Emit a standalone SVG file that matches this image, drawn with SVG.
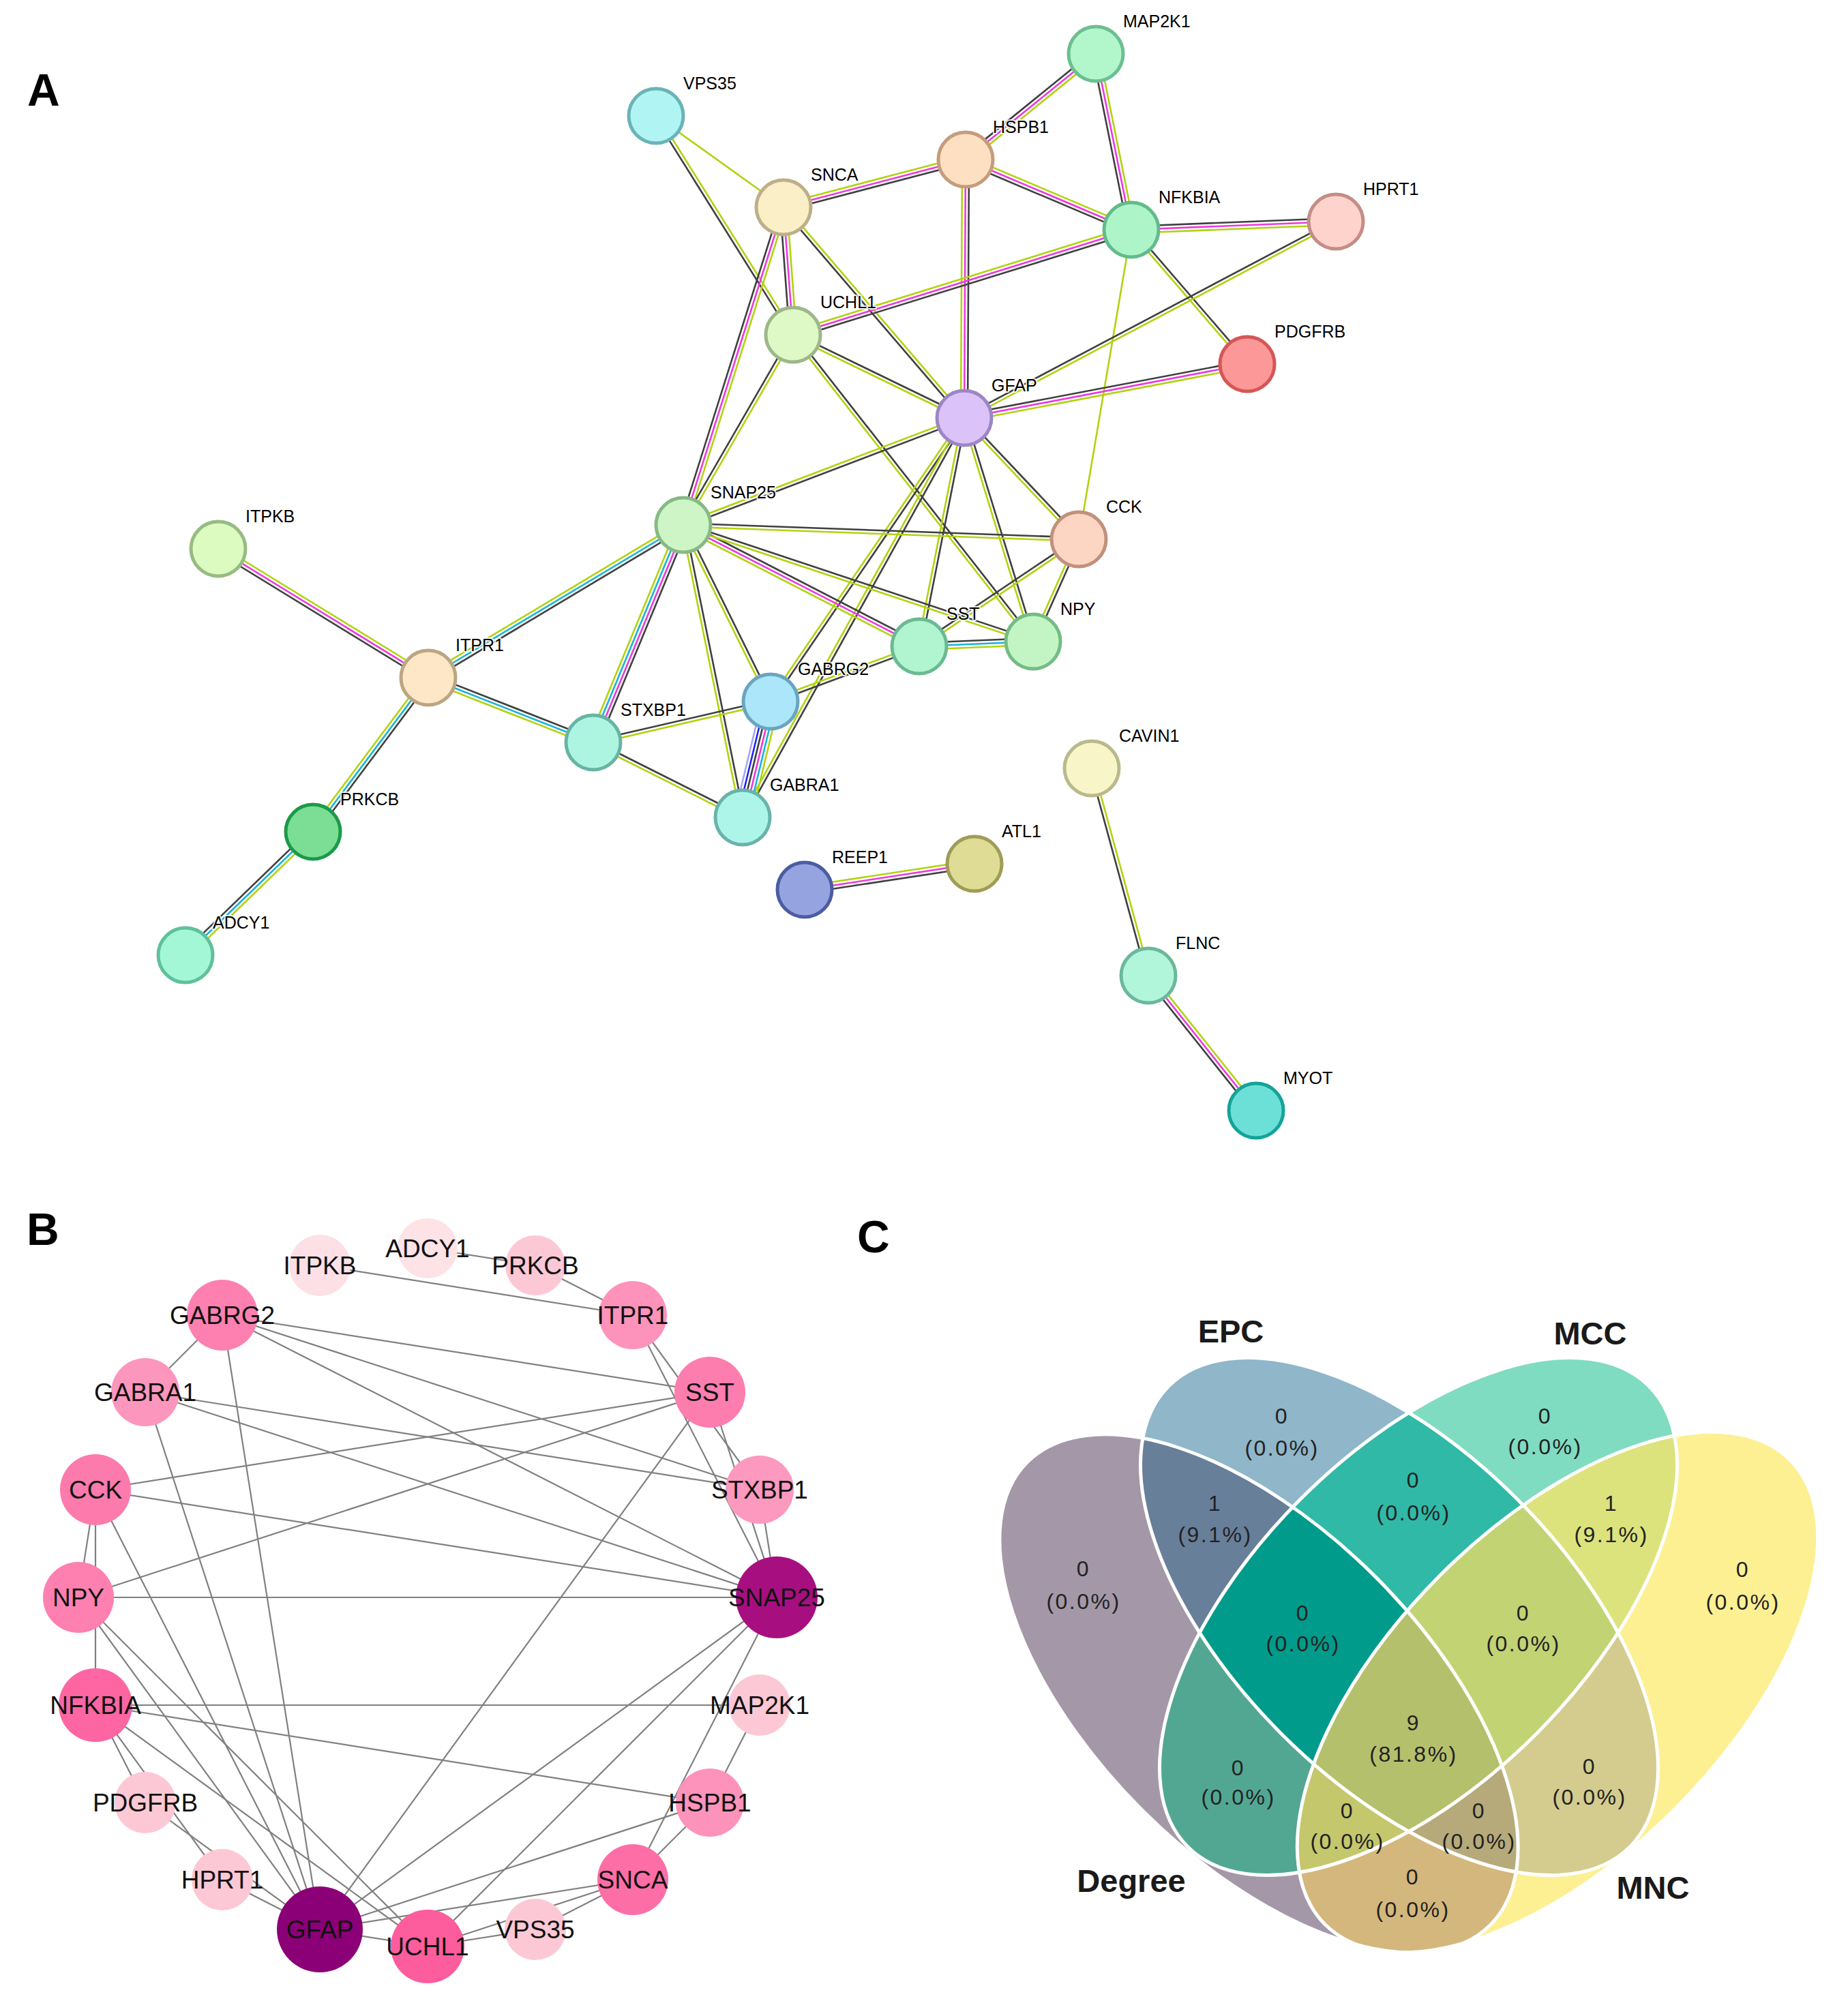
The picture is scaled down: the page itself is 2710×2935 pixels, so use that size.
<svg xmlns="http://www.w3.org/2000/svg" xmlns:xlink="http://www.w3.org/1999/xlink" width="2710" height="2935" viewBox="0 0 2710 2935">
<style>
text{font-family:"Liberation Sans",Arial,sans-serif}
.pl{font-size:66px;font-weight:bold;fill:#000}
.la{font-size:25px;fill:#000;stroke:#fff;stroke-width:4px;stroke-opacity:.85;paint-order:stroke;stroke-linejoin:round}
.na{stroke-width:5}
.lb{font-size:37px;fill:#111;text-anchor:middle}
.vn{font-size:32px;fill:#222;text-anchor:middle;letter-spacing:2.5px}
.vs{font-size:47px;font-weight:bold;fill:#1a1a1a;text-anchor:middle}
.k{stroke:#3f3f3f}.m{stroke:#ee38df}.l{stroke:#b1d30e}.c{stroke:#17b4d5}.b{stroke:#2323f2}.p{stroke:#a5a5f4}
#edgesB line{stroke:#808080;stroke-width:2.2}
</style>
<defs>
<line id="eMH" x1="1607" y1="79" x2="1416" y2="234"/>
<line id="eMN" x1="1607" y1="79" x2="1659" y2="337"/>
<line id="eVS" x1="962" y1="170" x2="1149" y2="304"/>
<line id="eVU" x1="962" y1="170" x2="1163" y2="491"/>
<line id="eSH" x1="1149" y1="304" x2="1416" y2="234"/>
<line id="eSU" x1="1149" y1="304" x2="1163" y2="491"/>
<line id="eSSN" x1="1149" y1="304" x2="1002" y2="770"/>
<line id="eSG" x1="1149" y1="304" x2="1414" y2="613"/>
<line id="eHN" x1="1416" y1="234" x2="1659" y2="337"/>
<line id="eHG" x1="1416" y1="234" x2="1414" y2="613"/>
<line id="eNHP" x1="1659" y1="337" x2="1959" y2="325"/>
<line id="eNU" x1="1659" y1="337" x2="1163" y2="491"/>
<line id="eNP" x1="1659" y1="337" x2="1829" y2="534"/>
<line id="eNC" x1="1659" y1="337" x2="1582" y2="791"/>
<line id="eHPG" x1="1959" y1="325" x2="1414" y2="613"/>
<line id="ePG" x1="1829" y1="534" x2="1414" y2="613"/>
<line id="eUG" x1="1163" y1="491" x2="1414" y2="613"/>
<line id="eUSN" x1="1163" y1="491" x2="1002" y2="770"/>
<line id="eUNP" x1="1163" y1="491" x2="1515" y2="941"/>
<line id="eGSN" x1="1414" y1="613" x2="1002" y2="770"/>
<line id="eGC" x1="1414" y1="613" x2="1582" y2="791"/>
<line id="eGNP" x1="1414" y1="613" x2="1515" y2="941"/>
<line id="eGST" x1="1414" y1="613" x2="1348" y2="948"/>
<line id="eGGG" x1="1414" y1="613" x2="1130" y2="1029"/>
<line id="eGGA" x1="1414" y1="613" x2="1089" y2="1199"/>
<line id="eSNC" x1="1002" y1="770" x2="1582" y2="791"/>
<line id="eSNST" x1="1002" y1="770" x2="1348" y2="948"/>
<line id="eSNNP" x1="1002" y1="770" x2="1515" y2="941"/>
<line id="eSNGG" x1="1002" y1="770" x2="1130" y2="1029"/>
<line id="eSNGA" x1="1002" y1="770" x2="1089" y2="1199"/>
<line id="eSNSX" x1="1002" y1="770" x2="870" y2="1089"/>
<line id="eSNIR" x1="1002" y1="770" x2="628" y2="994"/>
<line id="eCST" x1="1582" y1="791" x2="1348" y2="948"/>
<line id="eCNP" x1="1582" y1="791" x2="1515" y2="941"/>
<line id="eSTNP" x1="1348" y1="948" x2="1515" y2="941"/>
<line id="eSTGG" x1="1348" y1="948" x2="1130" y2="1029"/>
<line id="eGGSX" x1="1130" y1="1029" x2="870" y2="1089"/>
<line id="eGGGA" x1="1130" y1="1029" x2="1089" y2="1199"/>
<line id="eSXGA" x1="870" y1="1089" x2="1089" y2="1199"/>
<line id="eSXIR" x1="870" y1="1089" x2="628" y2="994"/>
<line id="eIKIR" x1="320" y1="805" x2="628" y2="994"/>
<line id="eIRPK" x1="628" y1="994" x2="459" y2="1220"/>
<line id="ePKAD" x1="459" y1="1220" x2="272" y2="1401"/>
<line id="eREAT" x1="1180" y1="1305" x2="1429" y2="1267"/>
<line id="eCVFL" x1="1601" y1="1127" x2="1684" y2="1431"/>
<line id="eFLMY" x1="1684" y1="1431" x2="1842" y2="1629"/>
<ellipse id="vD" cx="1846" cy="2484" rx="480" ry="242" transform="rotate(45 1846 2484)"/>
<ellipse id="vE" cx="2052" cy="2371" rx="478" ry="244" transform="rotate(45 2052 2371)"/>
<ellipse id="vM" cx="2080" cy="2371" rx="478" ry="244" transform="rotate(-45 2080 2371)"/>
<ellipse id="vN" cx="2284" cy="2482" rx="482" ry="243" transform="rotate(-45 2284 2482)"/>
<clipPath id="cD"><ellipse cx="1846" cy="2484" rx="480" ry="242" transform="rotate(45 1846 2484)"/></clipPath>
<clipPath id="cE"><ellipse cx="2052" cy="2371" rx="478" ry="244" transform="rotate(45 2052 2371)"/></clipPath>
<clipPath id="cM"><ellipse cx="2080" cy="2371" rx="478" ry="244" transform="rotate(-45 2080 2371)"/></clipPath>
<clipPath id="cN"><ellipse cx="2284" cy="2482" rx="482" ry="243" transform="rotate(-45 2284 2482)"/></clipPath>
</defs>
<rect width="2710" height="2935" fill="#fff"/>
<text class="pl" x="40" y="155">A</text>
<text class="pl" x="39" y="1826">B</text>
<text class="pl" x="1257" y="1837">C</text>

<g id="edgesA" fill="none" stroke-width="2.6">
<use href="#eMH" class="k" transform="translate(-3.15,-3.88)"/><use href="#eMH" class="m"/><use href="#eMH" class="l" transform="translate(3.15,3.88)"/>
<use href="#eMN" class="k" transform="translate(-4.9,0.99)"/><use href="#eMN" class="m"/><use href="#eMN" class="l" transform="translate(4.9,-0.99)"/>
<use href="#eVS" class="l"/>
<use href="#eVU" class="k" transform="translate(-2.12,1.33)"/><use href="#eVU" class="l" transform="translate(2.12,-1.33)"/>
<use href="#eSH" class="l" transform="translate(-1.27,-4.84)"/><use href="#eSH" class="m"/><use href="#eSH" class="k" transform="translate(1.27,4.84)"/>
<use href="#eSU" class="k" transform="translate(-4.99,0.37)"/><use href="#eSU" class="m"/><use href="#eSU" class="l" transform="translate(4.99,-0.37)"/>
<use href="#eSSN" class="k" transform="translate(-4.77,-1.5)"/><use href="#eSSN" class="m"/><use href="#eSSN" class="l" transform="translate(4.77,1.5)"/>
<use href="#eSG" class="k" transform="translate(-1.9,1.63)"/><use href="#eSG" class="l" transform="translate(1.9,-1.63)"/>
<use href="#eHN" class="l" transform="translate(1.95,-4.6)"/><use href="#eHN" class="m"/><use href="#eHN" class="k" transform="translate(-1.95,4.6)"/>
<use href="#eHG" class="l" transform="translate(-5,0)"/><use href="#eHG" class="m"/><use href="#eHG" class="k" transform="translate(5,0)"/>
<use href="#eNHP" class="k" transform="translate(-0.2,-5)"/><use href="#eNHP" class="m"/><use href="#eNHP" class="l" transform="translate(0.2,5)"/>
<use href="#eNU" class="l" transform="translate(-1.48,-4.77)"/><use href="#eNU" class="m"/><use href="#eNU" class="k" transform="translate(1.48,4.77)"/>
<use href="#eNP" class="l" transform="translate(-1.9,1.64)"/><use href="#eNP" class="k" transform="translate(1.9,-1.64)"/>
<use href="#eNC" class="l"/>
<use href="#eHPG" class="k" transform="translate(-1.17,-2.21)"/><use href="#eHPG" class="l" transform="translate(1.17,2.21)"/>
<use href="#ePG" class="k" transform="translate(-0.93,-4.91)"/><use href="#ePG" class="m"/><use href="#ePG" class="l" transform="translate(0.93,4.91)"/>
<use href="#eUG" class="k" transform="translate(1.1,-2.25)"/><use href="#eUG" class="l" transform="translate(-1.1,2.25)"/>
<use href="#eUSN" class="k" transform="translate(-2.17,-1.25)"/><use href="#eUSN" class="l" transform="translate(2.17,1.25)"/>
<use href="#eUNP" class="l" transform="translate(-1.97,1.54)"/><use href="#eUNP" class="k" transform="translate(1.97,-1.54)"/>
<use href="#eGSN" class="l" transform="translate(-0.89,-2.34)"/><use href="#eGSN" class="k" transform="translate(0.89,2.34)"/>
<use href="#eGC" class="l" transform="translate(-1.82,1.72)"/><use href="#eGC" class="k" transform="translate(1.82,-1.72)"/>
<use href="#eGNP" class="l" transform="translate(-2.39,0.74)"/><use href="#eGNP" class="k" transform="translate(2.39,-0.74)"/>
<use href="#eGST" class="l" transform="translate(-2.46,-0.49)"/><use href="#eGST" class="k" transform="translate(2.46,0.49)"/>
<use href="#eGGG" class="l" transform="translate(-2.07,-1.41)"/><use href="#eGGG" class="k" transform="translate(2.07,1.41)"/>
<use href="#eGGA" class="l" transform="translate(-2.19,-1.22)"/><use href="#eGGA" class="k" transform="translate(2.19,1.22)"/>
<use href="#eSNC" class="k" transform="translate(0.09,-2.5)"/><use href="#eSNC" class="l" transform="translate(-0.09,2.5)"/>
<use href="#eSNST" class="k" transform="translate(2.29,-4.45)"/><use href="#eSNST" class="m"/><use href="#eSNST" class="l" transform="translate(-2.29,4.45)"/>
<use href="#eSNNP" class="k" transform="translate(0.79,-2.37)"/><use href="#eSNNP" class="l" transform="translate(-0.79,2.37)"/>
<use href="#eSNGG" class="l" transform="translate(-2.24,1.11)"/><use href="#eSNGG" class="k" transform="translate(2.24,-1.11)"/>
<use href="#eSNGA" class="l" transform="translate(-2.45,0.5)"/><use href="#eSNGA" class="k" transform="translate(2.45,-0.5)"/>
<use href="#eSNSX" class="l" transform="translate(-6.93,-2.87)"/><use href="#eSNSX" class="c" transform="translate(-2.31,-0.96)"/><use href="#eSNSX" class="m" transform="translate(2.31,0.96)"/><use href="#eSNSX" class="k" transform="translate(6.93,2.87)"/>
<use href="#eSNIR" class="l" transform="translate(-2.57,-4.29)"/><use href="#eSNIR" class="c"/><use href="#eSNIR" class="k" transform="translate(2.57,4.29)"/>
<use href="#eCST" class="k" transform="translate(-1.4,-2.08)"/><use href="#eCST" class="l" transform="translate(1.4,2.08)"/>
<use href="#eCNP" class="l" transform="translate(-2.28,-1.02)"/><use href="#eCNP" class="k" transform="translate(2.28,1.02)"/>
<use href="#eSTNP" class="k" transform="translate(-0.21,-5)"/><use href="#eSTNP" class="c"/><use href="#eSTNP" class="l" transform="translate(0.21,5)"/>
<use href="#eSTGG" class="l" transform="translate(-0.87,-2.35)"/><use href="#eSTGG" class="k" transform="translate(0.87,2.35)"/>
<use href="#eGGSX" class="k" transform="translate(-0.56,-2.44)"/><use href="#eGGSX" class="l" transform="translate(0.56,2.44)"/>
<use href="#eGGGA" class="p" transform="translate(-12.15,-2.93)"/><use href="#eGGGA" class="b" transform="translate(-7.29,-1.76)"/><use href="#eGGGA" class="k" transform="translate(-2.43,-0.59)"/><use href="#eGGGA" class="m" transform="translate(2.43,0.59)"/><use href="#eGGGA" class="c" transform="translate(7.29,1.76)"/><use href="#eGGGA" class="l" transform="translate(12.15,2.93)"/>
<use href="#eSXGA" class="k" transform="translate(1.12,-2.24)"/><use href="#eSXGA" class="l" transform="translate(-1.12,2.24)"/>
<use href="#eSXIR" class="k" transform="translate(1.83,-4.65)"/><use href="#eSXIR" class="c"/><use href="#eSXIR" class="l" transform="translate(-1.83,4.65)"/>
<use href="#eIKIR" class="l" transform="translate(2.61,-4.26)"/><use href="#eIKIR" class="m"/><use href="#eIKIR" class="k" transform="translate(-2.61,4.26)"/>
<use href="#eIRPK" class="l" transform="translate(-4,-3)"/><use href="#eIRPK" class="c"/><use href="#eIRPK" class="k" transform="translate(4,3)"/>
<use href="#ePKAD" class="k" transform="translate(-3.48,-3.59)"/><use href="#ePKAD" class="c"/><use href="#ePKAD" class="l" transform="translate(3.48,3.59)"/>
<use href="#eREAT" class="l" transform="translate(-0.75,-4.94)"/><use href="#eREAT" class="m"/><use href="#eREAT" class="k" transform="translate(0.75,4.94)"/>
<use href="#eCVFL" class="k" transform="translate(-2.41,0.66)"/><use href="#eCVFL" class="l" transform="translate(2.41,-0.66)"/>
<use href="#eFLMY" class="k" transform="translate(-3.91,3.12)"/><use href="#eFLMY" class="m"/><use href="#eFLMY" class="l" transform="translate(3.91,-3.12)"/>
</g>

<g id="nodesA">
<g id="a-MAP2K1"><circle class="na" cx="1607" cy="79" r="40" fill="#b2f6cb" stroke="#6cbf90"/><text class="la" x="1647" y="40">MAP2K1</text></g>
<g id="a-VPS35"><circle class="na" cx="962" cy="170" r="40" fill="#b0f4f4" stroke="#6ab4b6"/><text class="la" x="1002" y="131">VPS35</text></g>
<g id="a-HSPB1"><circle class="na" cx="1416" cy="234" r="40" fill="#fde0c2" stroke="#c59c7c"/><text class="la" x="1456" y="195">HSPB1</text></g>
<g id="a-SNCA"><circle class="na" cx="1149" cy="304" r="40" fill="#fbefc7" stroke="#bdb088"/><text class="la" x="1189" y="265">SNCA</text></g>
<g id="a-NFKBIA"><circle class="na" cx="1659" cy="337" r="40" fill="#adf5c9" stroke="#62bb8a"/><text class="la" x="1699" y="298">NFKBIA</text></g>
<g id="a-HPRT1"><circle class="na" cx="1959" cy="325" r="40" fill="#fdd3cc" stroke="#c48d87"/><text class="la" x="1999" y="286">HPRT1</text></g>
<g id="a-UCHL1"><circle class="na" cx="1163" cy="491" r="40" fill="#def8c6" stroke="#9db78a"/><text class="la" x="1203" y="452">UCHL1</text></g>
<g id="a-PDGFRB"><circle class="na" cx="1829" cy="534" r="40" fill="#fc9898" stroke="#d65656"/><text class="la" x="1869" y="495">PDGFRB</text></g>
<g id="a-GFAP"><circle class="na" cx="1414" cy="613" r="40" fill="#dbc3fa" stroke="#9d86c6"/><text class="la" x="1454" y="574">GFAP</text></g>
<g id="a-SNAP25"><circle class="na" cx="1002" cy="770" r="40" fill="#cdf5c6" stroke="#87b985"/><text class="la" x="1042" y="731">SNAP25</text></g>
<g id="a-CCK"><circle class="na" cx="1582" cy="791" r="40" fill="#fdd6c3" stroke="#c1917d"/><text class="la" x="1622" y="752">CCK</text></g>
<g id="a-SST"><circle class="na" cx="1348" cy="948" r="40" fill="#b0f5d0" stroke="#6bba92"/><text class="la" x="1388" y="909">SST</text></g>
<g id="a-NPY"><circle class="na" cx="1515" cy="941" r="40" fill="#c3f5c4" stroke="#74bc85"/><text class="la" x="1555" y="902">NPY</text></g>
<g id="a-ITPKB"><circle class="na" cx="320" cy="805" r="40" fill="#dbfbc1" stroke="#98bb83"/><text class="la" x="360" y="766">ITPKB</text></g>
<g id="a-ITPR1"><circle class="na" cx="628" cy="994" r="40" fill="#fde7c6" stroke="#bba681"/><text class="la" x="668" y="955">ITPR1</text></g>
<g id="a-STXBP1"><circle class="na" cx="870" cy="1089" r="40" fill="#aef5e1" stroke="#67b4a5"/><text class="la" x="910" y="1050">STXBP1</text></g>
<g id="a-GABRG2"><circle class="na" cx="1130" cy="1029" r="40" fill="#ace6fa" stroke="#69a5bf"/><text class="la" x="1170" y="990">GABRG2</text></g>
<g id="a-GABRA1"><circle class="na" cx="1089" cy="1199" r="40" fill="#aef5e9" stroke="#69b3aa"/><text class="la" x="1129" y="1160">GABRA1</text></g>
<g id="a-PRKCB"><circle class="na" cx="459" cy="1220" r="40" fill="#7bde94" stroke="#1b9a4a"/><text class="la" x="499" y="1181">PRKCB</text></g>
<g id="a-ADCY1"><circle class="na" cx="272" cy="1401" r="40" fill="#a4f7d6" stroke="#60c09c"/><text class="la" x="312" y="1362">ADCY1</text></g>
<g id="a-CAVIN1"><circle class="na" cx="1601" cy="1127" r="40" fill="#f8f6c9" stroke="#bab98b"/><text class="la" x="1641" y="1088">CAVIN1</text></g>
<g id="a-REEP1"><circle class="na" cx="1180" cy="1305" r="40" fill="#95a3e0" stroke="#4b5ca2"/><text class="la" x="1220" y="1266">REEP1</text></g>
<g id="a-ATL1"><circle class="na" cx="1429" cy="1267" r="40" fill="#dfdc96" stroke="#a09c58"/><text class="la" x="1469" y="1228">ATL1</text></g>
<g id="a-FLNC"><circle class="na" cx="1684" cy="1431" r="40" fill="#b1f5db" stroke="#6bb89c"/><text class="la" x="1724" y="1392">FLNC</text></g>
<g id="a-MYOT"><circle class="na" cx="1842" cy="1629" r="40" fill="#6ce0d7" stroke="#14a39a"/><text class="la" x="1882" y="1590">MYOT</text></g>
</g>

<g id="edgesB">
<line x1="1114" y1="2501" x2="1041" y2="2644"/>
<line x1="1114" y1="2501" x2="140" y2="2501"/>
<line x1="785" y1="2830" x2="928" y2="2757"/>
<line x1="785" y1="2830" x2="627" y2="2855"/>
<line x1="928" y1="2757" x2="1041" y2="2644"/>
<line x1="928" y1="2757" x2="627" y2="2855"/>
<line x1="928" y1="2757" x2="1139" y2="2343"/>
<line x1="928" y1="2757" x2="469" y2="2830"/>
<line x1="1041" y1="2644" x2="140" y2="2501"/>
<line x1="1041" y1="2644" x2="469" y2="2830"/>
<line x1="140" y1="2501" x2="326" y2="2757"/>
<line x1="140" y1="2501" x2="627" y2="2855"/>
<line x1="140" y1="2501" x2="213" y2="2644"/>
<line x1="140" y1="2501" x2="140" y2="2185"/>
<line x1="326" y1="2757" x2="469" y2="2830"/>
<line x1="213" y1="2644" x2="469" y2="2830"/>
<line x1="627" y1="2855" x2="469" y2="2830"/>
<line x1="627" y1="2855" x2="1139" y2="2343"/>
<line x1="627" y1="2855" x2="115" y2="2343"/>
<line x1="469" y1="2830" x2="1139" y2="2343"/>
<line x1="469" y1="2830" x2="140" y2="2185"/>
<line x1="469" y1="2830" x2="115" y2="2343"/>
<line x1="469" y1="2830" x2="1041" y2="2042"/>
<line x1="469" y1="2830" x2="326" y2="1929"/>
<line x1="469" y1="2830" x2="213" y2="2042"/>
<line x1="1139" y1="2343" x2="140" y2="2185"/>
<line x1="1139" y1="2343" x2="1041" y2="2042"/>
<line x1="1139" y1="2343" x2="115" y2="2343"/>
<line x1="1139" y1="2343" x2="326" y2="1929"/>
<line x1="1139" y1="2343" x2="213" y2="2042"/>
<line x1="1139" y1="2343" x2="1114" y2="2185"/>
<line x1="1139" y1="2343" x2="928" y2="1929"/>
<line x1="140" y1="2185" x2="1041" y2="2042"/>
<line x1="140" y1="2185" x2="115" y2="2343"/>
<line x1="1041" y1="2042" x2="115" y2="2343"/>
<line x1="1041" y1="2042" x2="326" y2="1929"/>
<line x1="326" y1="1929" x2="1114" y2="2185"/>
<line x1="326" y1="1929" x2="213" y2="2042"/>
<line x1="1114" y1="2185" x2="213" y2="2042"/>
<line x1="1114" y1="2185" x2="928" y2="1929"/>
<line x1="469" y1="1856" x2="928" y2="1929"/>
<line x1="928" y1="1929" x2="785" y2="1856"/>
<line x1="785" y1="1856" x2="627" y2="1831"/>
</g>

<g id="nodesB">
<g id="b-ITPKB"><circle cx="469" cy="1856" r="45" fill="#fde0e5"/><text class="lb" x="469" y="1869">ITPKB</text></g>
<g id="b-ADCY1"><circle cx="627" cy="1831" r="44" fill="#fde2e6"/><text class="lb" x="627" y="1844">ADCY1</text></g>
<g id="b-PRKCB"><circle cx="785" cy="1856" r="44" fill="#fdc8d5"/><text class="lb" x="785" y="1869">PRKCB</text></g>
<g id="b-ITPR1"><circle cx="928" cy="1929" r="50" fill="#fd93bb"/><text class="lb" x="928" y="1942">ITPR1</text></g>
<g id="b-SST"><circle cx="1041" cy="2042" r="52" fill="#fd7daf"/><text class="lb" x="1041" y="2055">SST</text></g>
<g id="b-STXBP1"><circle cx="1114" cy="2185" r="50" fill="#fd98be"/><text class="lb" x="1114" y="2198">STXBP1</text></g>
<g id="b-SNAP25"><circle cx="1139" cy="2343" r="60" fill="#a70f80"/><text class="lb" x="1139" y="2356">SNAP25</text></g>
<g id="b-MAP2K1"><circle cx="1114" cy="2501" r="45" fill="#fdc8d5"/><text class="lb" x="1114" y="2514">MAP2K1</text></g>
<g id="b-HSPB1"><circle cx="1041" cy="2644" r="50" fill="#fd93bb"/><text class="lb" x="1041" y="2657">HSPB1</text></g>
<g id="b-SNCA"><circle cx="928" cy="2757" r="52" fill="#fd6ea7"/><text class="lb" x="928" y="2770">SNCA</text></g>
<g id="b-VPS35"><circle cx="785" cy="2830" r="45" fill="#fdc8d5"/><text class="lb" x="785" y="2843">VPS35</text></g>
<g id="b-UCHL1"><circle cx="627" cy="2855" r="54" fill="#fd5c9d"/><text class="lb" x="627" y="2868">UCHL1</text></g>
<g id="b-GFAP"><circle cx="469" cy="2830" r="63" fill="#8b0076"/><text class="lb" x="469" y="2843">GFAP</text></g>
<g id="b-HPRT1"><circle cx="326" cy="2757" r="45" fill="#fdc8d5"/><text class="lb" x="326" y="2770">HPRT1</text></g>
<g id="b-PDGFRB"><circle cx="213" cy="2644" r="45" fill="#fdc8d5"/><text class="lb" x="213" y="2657">PDGFRB</text></g>
<g id="b-NFKBIA"><circle cx="140" cy="2501" r="54" fill="#fd66a3"/><text class="lb" x="140" y="2514">NFKBIA</text></g>
<g id="b-NPY"><circle cx="115" cy="2343" r="52" fill="#fd80b1"/><text class="lb" x="115" y="2356">NPY</text></g>
<g id="b-CCK"><circle cx="140" cy="2185" r="52" fill="#fd7aad"/><text class="lb" x="140" y="2198">CCK</text></g>
<g id="b-GABRA1"><circle cx="213" cy="2042" r="50" fill="#fd96bd"/><text class="lb" x="213" y="2055">GABRA1</text></g>
<g id="b-GABRG2"><circle cx="326" cy="1929" r="52" fill="#fd80b1"/><text class="lb" x="326" y="1942">GABRG2</text></g>
</g>

<g id="venn">
<use href="#vD" fill="#a498a8"/>
<use href="#vE" fill="#8fb6c9"/>
<use href="#vM" fill="#80dcc0"/>
<use href="#vN" fill="#fcf093"/>
<g clip-path="url(#cD)"><use href="#vE" fill="#687f9a"/></g>
<g clip-path="url(#cD)"><use href="#vM" fill="#52a793"/></g>
<g clip-path="url(#cD)"><use href="#vN" fill="#d4b77c"/></g>
<g clip-path="url(#cE)"><use href="#vM" fill="#2fb9a6"/></g>
<g clip-path="url(#cE)"><use href="#vN" fill="#d3cc8e"/></g>
<g clip-path="url(#cM)"><use href="#vN" fill="#dce37c"/></g>
<g clip-path="url(#cD)"><g clip-path="url(#cE)"><use href="#vM" fill="#009b8b"/></g></g>
<g clip-path="url(#cD)"><g clip-path="url(#cE)"><use href="#vN" fill="#b6aa7a"/></g></g>
<g clip-path="url(#cD)"><g clip-path="url(#cM)"><use href="#vN" fill="#c4c76c"/></g></g>
<g clip-path="url(#cE)"><g clip-path="url(#cM)"><use href="#vN" fill="#c2d374"/></g></g>
<g clip-path="url(#cD)"><g clip-path="url(#cE)"><g clip-path="url(#cM)"><use href="#vN" fill="#b5c06c"/></g></g></g>
<g fill="none" stroke="#fff" stroke-width="5">
<use href="#vD"/><use href="#vE"/><use href="#vM"/><use href="#vN"/>
</g>
<text class="vs" x="1805" y="1969">EPC</text>
<text class="vs" x="2332" y="1972">MCC</text>
<text class="vs" x="1659" y="2775">Degree</text>
<text class="vs" x="2424" y="2785">MNC</text>
<text class="vn" x="1589" y="2312">0</text><text class="vn" x="1589" y="2360">(0.0%)</text>
<text class="vn" x="1880" y="2088">0</text><text class="vn" x="1880" y="2135">(0.0%)</text>
<text class="vn" x="2266" y="2088">0</text><text class="vn" x="2266" y="2133">(0.0%)</text>
<text class="vn" x="2556" y="2313">0</text><text class="vn" x="2556" y="2361">(0.0%)</text>
<text class="vn" x="1782" y="2216">1</text><text class="vn" x="1782" y="2262">(9.1%)</text>
<text class="vn" x="2363" y="2216">1</text><text class="vn" x="2363" y="2262">(9.1%)</text>
<text class="vn" x="2073" y="2182">0</text><text class="vn" x="2073" y="2230">(0.0%)</text>
<text class="vn" x="1911" y="2377">0</text><text class="vn" x="1911" y="2422">(0.0%)</text>
<text class="vn" x="2234" y="2377">0</text><text class="vn" x="2234" y="2422">(0.0%)</text>
<text class="vn" x="2073" y="2538">9</text><text class="vn" x="2073" y="2584">(81.8%)</text>
<text class="vn" x="1816" y="2604">0</text><text class="vn" x="1816" y="2647">(0.0%)</text>
<text class="vn" x="2331" y="2602">0</text><text class="vn" x="2331" y="2647">(0.0%)</text>
<text class="vn" x="1976" y="2667">0</text><text class="vn" x="1976" y="2712">(0.0%)</text>
<text class="vn" x="2169" y="2667">0</text><text class="vn" x="2169" y="2712">(0.0%)</text>
<text class="vn" x="2072" y="2764">0</text><text class="vn" x="2072" y="2812">(0.0%)</text>
</g>
</svg>
